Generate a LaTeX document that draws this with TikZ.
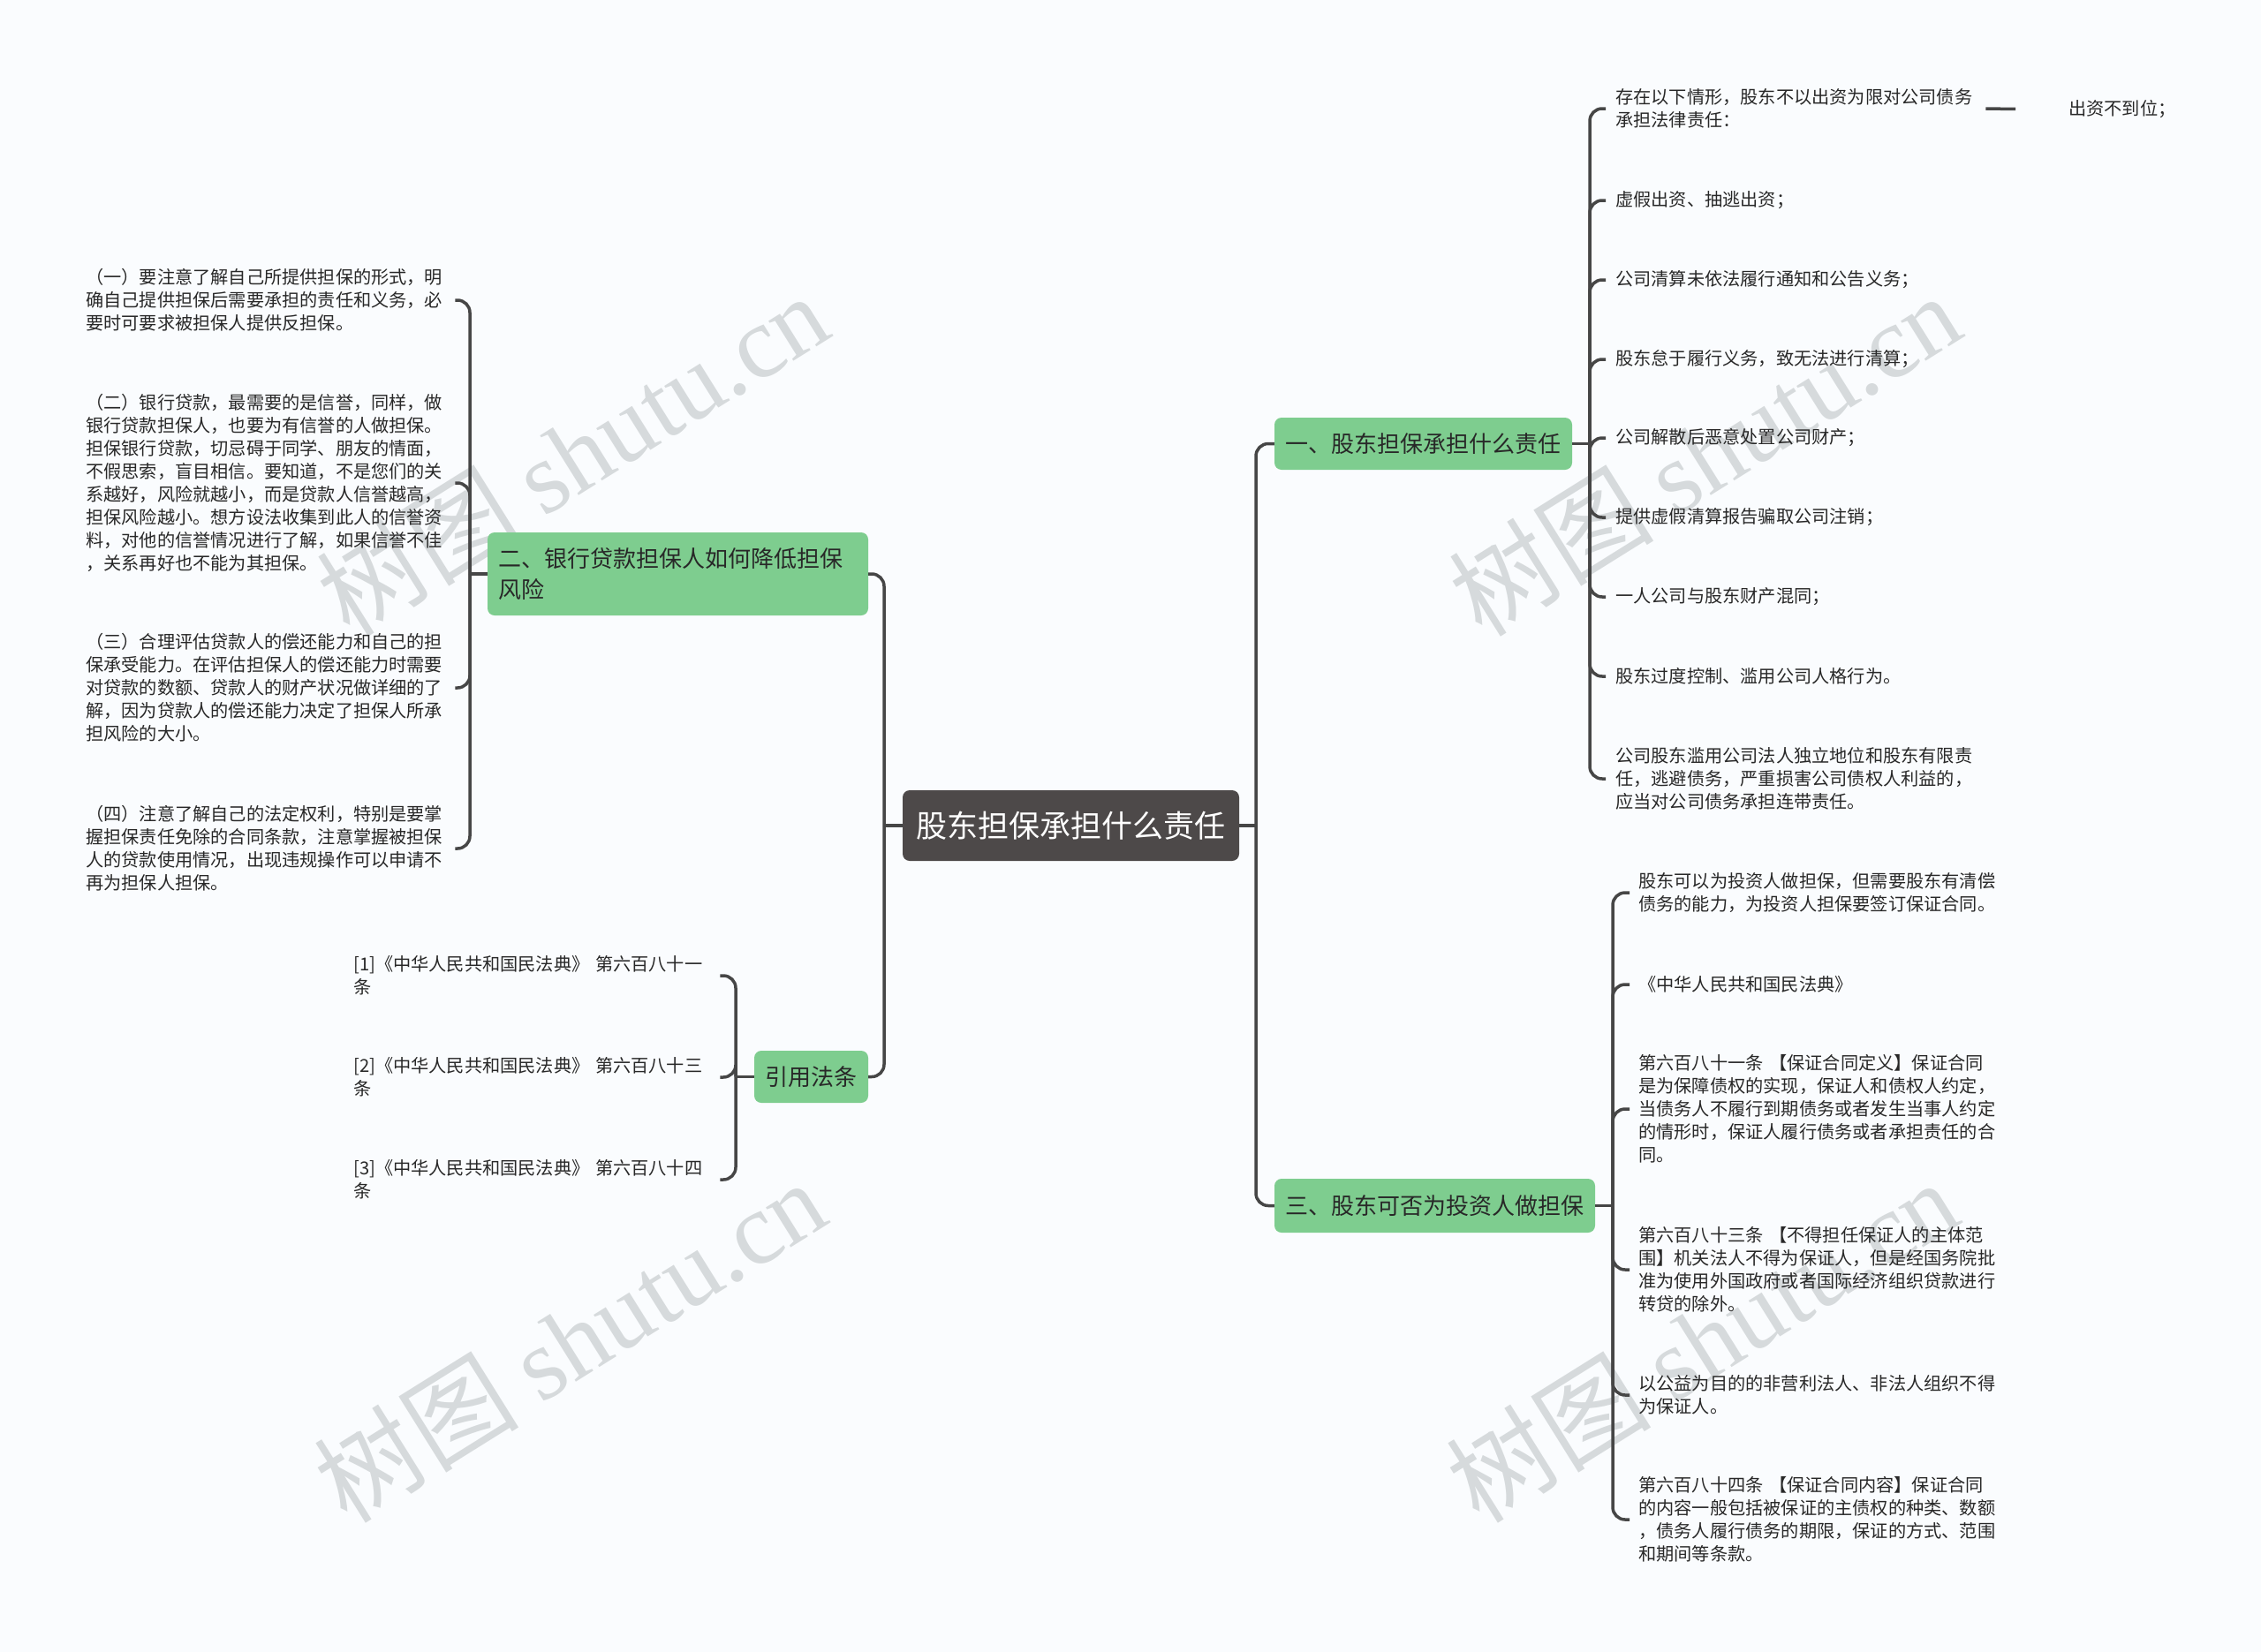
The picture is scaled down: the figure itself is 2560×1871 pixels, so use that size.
\documentclass[tikz,border=0pt]{standalone}
\usepackage{fontspec}
\newfontfamily\cjk{Noto Sans CJK SC}
\newfontfamily\wmserif{Liberation Serif}
\usetikzlibrary{calc}
\definecolor{bgc}{RGB}{250,252,254}
\definecolor{linec}{RGB}{70,70,70}
\definecolor{rootc}{RGB}{77,73,73}
\definecolor{greenc}{RGB}{126,205,143}
\definecolor{txtc}{RGB}{40,40,40}
\definecolor{wmc}{RGB}{214,218,220}
\begin{document}
\begin{tikzpicture}[x=1pt,y=-1pt,
  conn/.style={draw=linec, line width=3.5pt, rounded corners=14pt},
  rootbox/.style={fill=rootc, text=white, rounded corners=8pt, font=\cjk\fontsize{35}{42}\selectfont, minimum width=381pt, minimum height=80pt, inner sep=0pt},
  mainbox/.style={fill=greenc, text=txtc, rounded corners=8pt, font=\cjk\fontsize{26}{35}\selectfont, inner xsep=12pt, inner ysep=0pt, minimum height=59pt},
  leaf/.style={font=\cjk\fontsize{20.2}{26}\selectfont, text=txtc, align=left, inner sep=0pt},
  wm/.style={font=\cjk\fontsize{116}{120}\selectfont, text=wmc, rotate=32, inner sep=0pt}
]
\useasboundingbox (0,0) rectangle (2560,1871);
\fill[bgc] (0,0) rectangle (2560,1871);

% watermarks
\node[wm] (w1) at (648,514) {树图 {\wmserif shutu.cn}};
\node[wm] (w2) at (1930,514) {树图 {\wmserif shutu.cn}};
\node[wm] (w3) at (645,1518) {树图 {\wmserif shutu.cn}};
\node[wm] (w4) at (1927,1518) {树图 {\wmserif shutu.cn}};

% central and main nodes
\node[rootbox] (root) at (1212.5,935) {股东担保承担什么责任};
\node[mainbox, minimum width=337pt] (n1) at (1611.5,502.5) {一、股东担保承担什么责任};
\node[mainbox, minimum width=363pt, minimum height=61pt] (n3) at (1624.5,1365.5) {三、股东可否为投资人做担保};
\node[mainbox, text width=407pt, align=left, minimum height=94pt] (n2) at (767.5,650) {二、银行贷款担保人如何降低担保\\风险};
\node[mainbox, minimum width=129pt] (n4) at (918.5,1219.5) {引用法条};

% spine coordinates
\coordinate (rs) at (1422,935);
\coordinate (ls) at (1001,935);
\coordinate (s1) at (1800,502.5);
\coordinate (s3) at (1826,1365.5);
\coordinate (s2) at (532,650);
\coordinate (s4) at (833,1219.5);

% leaves of 一
\node[leaf, text width=410pt, anchor=west] (a1) at (1829,123) {存在以下情形，股东不以出资为限对公司债务\\承担法律责任：};
\node[leaf, text width=410pt, anchor=west] (a2) at (1829,227) {虚假出资、抽逃出资；};
\node[leaf, text width=410pt, anchor=west] (a3) at (1829,317) {公司清算未依法履行通知和公告义务；};
\node[leaf, text width=410pt, anchor=west] (a4) at (1829,407) {股东怠于履行义务，致无法进行清算；};
\node[leaf, text width=410pt, anchor=west] (a5) at (1829,496) {公司解散后恶意处置公司财产；};
\node[leaf, text width=410pt, anchor=west] (a6) at (1829,586) {提供虚假清算报告骗取公司注销；};
\node[leaf, text width=410pt, anchor=west] (a7) at (1829,676) {一人公司与股东财产混同；};
\node[leaf, text width=410pt, anchor=west] (a8) at (1829,766) {股东过度控制、滥用公司人格行为。};
\node[leaf, text width=410pt, anchor=west] (a9) at (1829,882) {公司股东滥用公司法人独立地位和股东有限责\\任，逃避债务，严重损害公司债权人利益的，\\应当对公司债务承担连带责任。};
\node[leaf, anchor=west] (cz) at (2342,124) {出资不到位；};

% leaves of 三
\node[leaf, text width=410pt, anchor=west] (b1) at (1855,1011) {股东可以为投资人做担保，但需要股东有清偿\\债务的能力，为投资人担保要签订保证合同。};
\node[leaf, text width=410pt, anchor=west] (b2) at (1855,1115) {《中华人民共和国民法典》};
\node[leaf, text width=410pt, anchor=west] (b3) at (1855,1256) {第六百八十一条 【保证合同定义】保证合同\\是为保障债权的实现，保证人和债权人约定，\\当债务人不履行到期债务或者发生当事人约定\\的情形时，保证人履行债务或者承担责任的合\\同。};
\node[leaf, text width=410pt, anchor=west] (b4) at (1855,1438) {第六百八十三条 【不得担任保证人的主体范\\围】机关法人不得为保证人，但是经国务院批\\准为使用外国政府或者国际经济组织贷款进行\\转贷的除外。};
\node[leaf, text width=410pt, anchor=west] (b5) at (1855,1580) {以公益为目的的非营利法人、非法人组织不得\\为保证人。};
\node[leaf, text width=410pt, anchor=west] (b6) at (1855,1721) {第六百八十四条 【保证合同内容】保证合同\\的内容一般包括被保证的主债权的种类、数额\\，债务人履行债务的期限，保证的方式、范围\\和期间等条款。};

% leaves of 二
\node[leaf, text width=408pt, anchor=west] (c1) at (97,340) {（一）要注意了解自己所提供担保的形式，明\\确自己提供担保后需要承担的责任和义务，必\\要时可要求被担保人提供反担保。};
\node[leaf, text width=408pt, anchor=west] (c2) at (97,547) {（二）银行贷款，最需要的是信誉，同样，做\\银行贷款担保人，也要为有信誉的人做担保。\\担保银行贷款，切忌碍于同学、朋友的情面，\\不假思索，盲目相信。要知道，不是您们的关\\系越好，风险就越小，而是贷款人信誉越高，\\担保风险越小。想方设法收集到此人的信誉资\\料，对他的信誉情况进行了解，如果信誉不佳\\，关系再好也不能为其担保。};
\node[leaf, text width=408pt, anchor=west] (c3) at (97,779) {（三）合理评估贷款人的偿还能力和自己的担\\保承受能力。在评估担保人的偿还能力时需要\\对贷款的数额、贷款人的财产状况做详细的了\\解，因为贷款人的偿还能力决定了担保人所承\\担风险的大小。};
\node[leaf, text width=408pt, anchor=west] (c4) at (97,961) {（四）注意了解自己的法定权利，特别是要掌\\握担保责任免除的合同条款，注意掌握被担保\\人的贷款使用情况，出现违规操作可以申请不\\再为担保人担保。};

% leaves of 引用法条
\node[leaf, text width=398pt, anchor=west] (d1) at (400,1105) {[1]《中华人民共和国民法典》 第六百八十一\\条};
\node[leaf, text width=398pt, anchor=west] (d2) at (400,1220) {[2]《中华人民共和国民法典》 第六百八十三\\条};
\node[leaf, text width=398pt, anchor=west] (d3) at (400,1336) {[3]《中华人民共和国民法典》 第六百八十四\\条};

% main connectors
\draw[conn] (root.east) -- (rs);
\draw[conn] (rs) |- (n1.west);
\draw[conn] (rs) |- (n3.west);
\draw[conn] (root.west) -- (ls);
\draw[conn] (ls) |- (n2.east);
\draw[conn] (ls) |- (n4.east);

% 一 bracket
\draw[conn] (n1.east) -- (s1);
\foreach \c in {a1,a2,a3,a4,a5,a6,a7,a8,a9}
  \draw[conn, shorten >=11pt] (s1) |- (\c.west);
\draw[conn, shorten <=9pt, shorten >=60pt] (a1.east) -- (cz.west);

% 三 bracket
\draw[conn] (n3.east) -- (s3);
\foreach \c in {b1,b2,b3,b4,b5,b6}
  \draw[conn, shorten >=10pt] (s3) |- (\c.west);

% 二 bracket
\draw[conn] (n2.west) -- (s2);
\foreach \c in {c1,c2,c3,c4}
  \draw[conn, shorten >=10pt] (s2) |- (\c.east);

% 引用法条 bracket
\draw[conn] (n4.west) -- (s4);
\foreach \c in {d1,d2,d3}
  \draw[conn, shorten >=17pt] (s4) |- (\c.east);
\end{tikzpicture}
\end{document}
